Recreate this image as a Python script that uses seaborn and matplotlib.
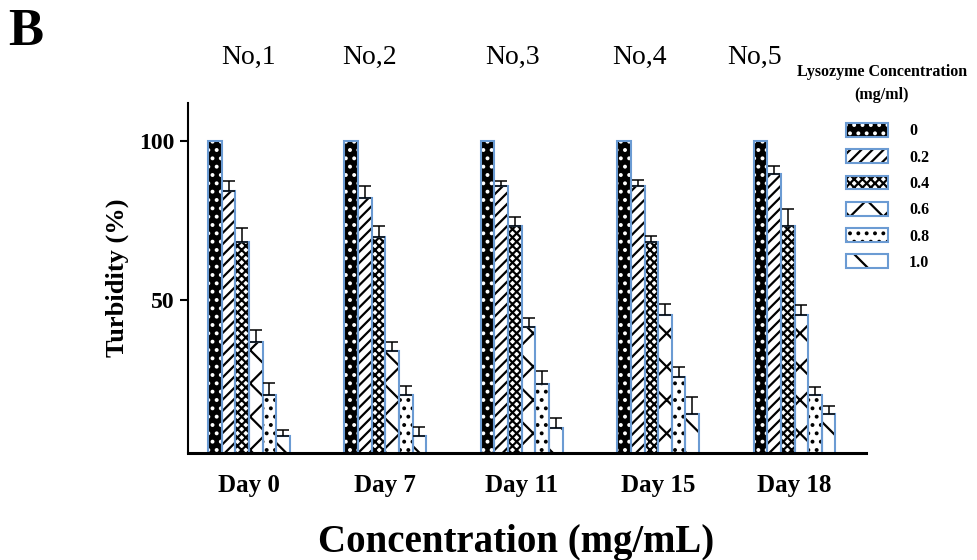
import matplotlib
matplotlib.use("Agg")
import matplotlib.pyplot as plt
import numpy as np
import pandas as pd
import seaborn as sns
from matplotlib.patches import Patch
from matplotlib.legend_handler import HandlerTuple

# Data
days = ["Day 0", "Day 7", "Day 11", "Day 15", "Day 18"]
concentrations = ["0", "0.2", "0.4", "0.6", "0.8", "1.0"]
sample_labels = ["No,1", "No,2", "No,3", "No,4", "No,5"]

turbidity = {
    "0": [100, 100, 100, 100, 100],
    "0.2": [84.3, 82.2, 86.0, 86.0, 89.6],
    "0.4": [68.3, 70.0, 73.4, 68.3, 73.4],
    "0.6": [36.8, 34.0, 41.6, 45.3, 45.3],
    "0.8": [20.0, 20.0, 23.6, 25.7, 20.0],
    "1.0": [7.2, 7.2, 9.8, 14.2, 14.2],
}
errors = {
    "0": [0, 0, 0, 0, 0],
    "0.2": [3.1, 3.8, 1.6, 1.7, 2.6],
    "0.4": [4.3, 3.3, 2.6, 1.8, 5.4],
    "0.6": [3.7, 2.7, 2.7, 3.4, 3.0],
    "0.8": [3.8, 3.0, 4.2, 3.3, 2.8],
    "1.0": [1.9, 2.8, 3.2, 5.4, 2.5],
}

# Styles per concentration: (facecolor, hatch colour, hatch)
styles = {
    "0": ("black", "white", ".."),
    "0.2": ("white", "black", "///"),
    "0.4": ("white", "black", "xxxx"),
    "0.6": ("white", "black", "x"),
    "0.8": ("white", "black", ".."),
    "1.0": ("white", "black", "\\"),
}
outline = "#6b9bd3"

rows = []
for c in concentrations:
    for d, v, e in zip(days, turbidity[c], errors[c]):
        rows.append({"day": d, "conc": c, "value": v, "err": e})
df = pd.DataFrame(rows)

sns.set_style("ticks")
plt.rcParams["font.family"] = ["Liberation Serif", "DejaVu Serif"]
plt.rcParams["hatch.linewidth"] = 1.6
for key in ["text.color", "axes.labelcolor", "xtick.color", "ytick.color", "axes.edgecolor"]:
    plt.rcParams[key] = "black"

fig = plt.figure(figsize=(9.78, 5.6), dpi=100)
ax = fig.add_axes([188 / 978, 1 - 453 / 560, (866 - 188) / 978, (453 - 103) / 560])

# 1. Hatched fills
sns.barplot(data=df, x="day", y="value", hue="conc", order=days,
            hue_order=concentrations, width=0.6, errorbar=None,
            palette=["white"] * 6, legend=False, ax=ax)
for c, cont in zip(concentrations, ax.containers):
    fc, hc, h = styles[c]
    for bar in cont:
        bar.set_facecolor(fc)
        bar.set_edgecolor(hc)
        bar.set_hatch(h)
        bar.set_linewidth(0)

# 2. Blue outlines
sns.barplot(data=df, x="day", y="value", hue="conc", order=days,
            hue_order=concentrations, width=0.6, errorbar=None,
            palette=[outline] * 6, fill=False, linewidth=1.5,
            legend=False, ax=ax)

# 3. Upward error bars
for c, cont in zip(concentrations, ax.containers[:6]):
    for bar, e in zip(cont, errors[c]):
        if e > 0:
            ax.errorbar(bar.get_x() + bar.get_width() / 2, bar.get_height(),
                        yerr=[[0], [e]], fmt="none", ecolor="black",
                        elinewidth=1.1, capsize=4.3, capthick=1.1, zorder=5)

ax.set_ylim(1.9, 112)
ax.set_xlim(-0.447, 4.524)
ax.set_yticks([50, 100])
ax.set_yticklabels(["50", "100"], fontsize=17, fontweight="bold")
ax.set_xticks(range(len(days)))
ax.set_xticklabels(days, fontsize=18, fontweight="bold")
ax.tick_params(axis="x", length=0, pad=15)
ax.tick_params(axis="y", length=6, width=1.5, pad=4)
ax.set_xlabel("")
ax.set_ylabel("Turbidity (%)", fontsize=19, fontweight="bold", labelpad=7)
sns.despine(ax=ax)
ax.spines["left"].set_linewidth(1.5)
ax.spines["bottom"].set_linewidth(2.2)

# Legend with hatch + blue outline overlaid
handles = []
for c in concentrations:
    fc, hc, h = styles[c]
    handles.append((Patch(facecolor=fc, edgecolor=hc, hatch=h, linewidth=0),
                    Patch(fill=False, edgecolor=outline, linewidth=1.5)))
leg = fig.legend(handles, concentrations, handler_map={tuple: HandlerTuple(ndivide=1)},
                 loc="upper left", bbox_to_anchor=(846 / 978, 1 - 123 / 560),
                 frameon=False, borderpad=0, borderaxespad=0,
                 prop={"size": 11.5, "weight": "bold"},
                 handlelength=2.65, handleheight=0.95, labelspacing=0.62,
                 handletextpad=1.3)
fig.text(882 / 978, 1 - 64 / 560, "Lysozyme Concentration\n(mg/ml)",
         fontsize=11.5, fontweight="bold", ha="center", va="top",
         multialignment="center", linespacing=1.55)

# Sample labels above each group
xs = [249, 370, 513, 639, 755]
for lab, x in zip(sample_labels, xs):
    fig.text(x / 978, 1 - 57 / 560, lab, fontsize=20, ha="center", va="center")

fig.text(8 / 978, 1 - 8 / 560, "B", fontsize=38, fontweight="bold", ha="left", va="top")
fig.text(516 / 978, 8 / 560, "Concentration (mg/mL)", fontsize=28,
         fontweight="bold", ha="center", va="baseline")

fig.savefig("out.png", dpi=100)
